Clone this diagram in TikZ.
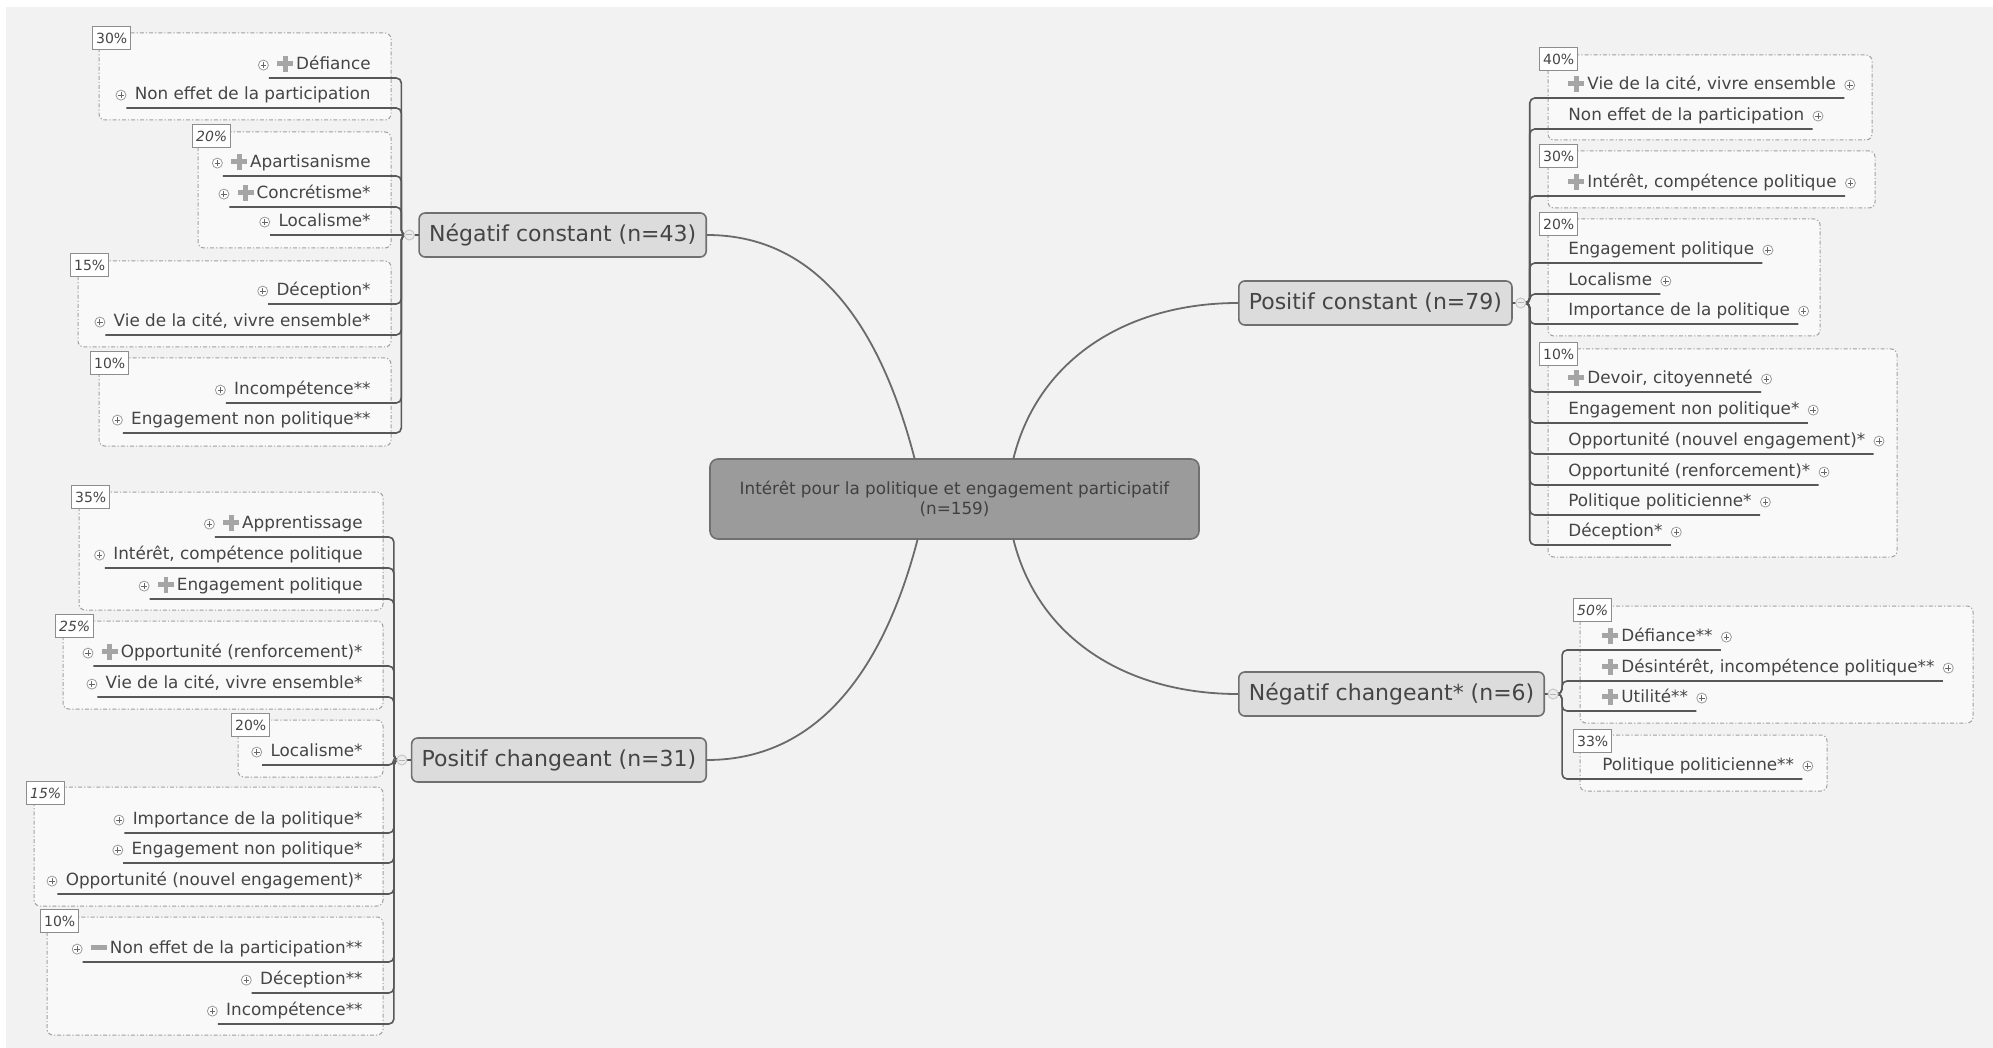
\documentclass[tikz,border=0pt]{standalone}
\usepackage{fontspec}
\setmainfont{DejaVu Sans}
\usepackage{xcolor}
\usepackage{tikz}

\definecolor{bggray}{HTML}{F2F2F2}
\definecolor{grpfill}{HTML}{F9F9F9}
\definecolor{grpline}{HTML}{A0A0A0}
\definecolor{txtgray}{HTML}{454545}
\definecolor{linkgray}{HTML}{585858}
\definecolor{trunkgray}{HTML}{6A6A6A}
\definecolor{topicfill}{HTML}{DCDCDC}
\definecolor{rootfill}{HTML}{9B9B9B}
\definecolor{edgegray}{HTML}{707070}
\definecolor{icongray}{HTML}{A5A5A5}
\definecolor{markgray}{HTML}{9A9A9A}

\newcommand{\itemfont}{\fontsize{8.4}{10}\selectfont}
\newcommand{\topicfont}{\fontsize{11}{13}\selectfont}
\newcommand{\pctfont}{\fontsize{7}{8}\selectfont}
\newcommand{\plusmark}{{\color{icongray}\rlap{\rule[1.8pt]{8pt}{2.4pt}}\hspace{2.8pt}\rule[-1pt]{2.4pt}{8pt}\hspace{2.8pt}}\hspace{1.5pt}}
\newcommand{\minusmark}{{\color{icongray}\rule[1.8pt]{8pt}{2.4pt}}\hspace{1.5pt}}

\tikzset{
  root/.style={draw=edgegray, fill=rootfill, line width=0.8pt, rounded corners=4pt,
               minimum width=244.5pt, minimum height=40pt, align=center,
               font=\itemfont, text=black!75},
  topic/.style={draw=edgegray, fill=topicfill, line width=0.8pt, rounded corners=3pt,
                minimum height=22pt, inner xsep=5pt, font=\topicfont, text=txtgray},
  grp/.style={draw=grpline, fill=grpfill, line width=0.5pt, rounded corners=3pt,
              dash pattern=on 2pt off 1pt on 0.6pt off 1pt},
  pct/.style={draw=edgegray!80, fill=white, line width=0.5pt, anchor=north west,
              inner xsep=1.8pt, inner ysep=0pt, minimum height=11.5pt,
              font=\pctfont, text=txtgray},
  expmark/.style={circle, draw=markgray, fill=white, line width=0.4pt,
                  inner sep=0pt, minimum size=5pt,
                  path picture={\draw[black!60, line width=0.45pt]
                    ([xshift=1.1pt]path picture bounding box.west) -- ([xshift=-1.1pt]path picture bounding box.east)
                    ([yshift=-1.1pt]path picture bounding box.north) -- ([yshift=1.1pt]path picture bounding box.south);}},
  colmark/.style={circle, draw=black!22, fill=black!7, line width=0.5pt,
                  inner sep=0pt, minimum size=5pt,
                  path picture={\draw[black!30, line width=0.5pt]
                    ([xshift=1pt]path picture bounding box.west) -- ([xshift=-1pt]path picture bounding box.east);}},
  item/.style={font=\itemfont, text=txtgray, inner xsep=4pt, inner ysep=2pt,
               text height=6.5pt, text depth=2pt},
  itemL/.style={item, anchor=south east, label distance=2pt, label={[expmark]west:}},
  itemR/.style={item, anchor=south west, label distance=2pt, label={[expmark]east:}},
  link/.style={draw=linkgray, line width=0.8pt, rounded corners=2.5pt},
  trunk/.style={draw=trunkgray, line width=0.9pt}
}

\begin{document}
\begin{tikzpicture}[x=0.5pt, y=-0.5pt]

    % Canvas
    \useasboundingbox (0,0) rectangle (1993,1048);
    \fill[white] (0,0) rectangle (1993,1048);
    \fill[bggray] (6,7) rectangle (1993,1048);

    % Central topic
    \node[root] (root) at (954.5,499)
        {Intérêt pour la politique et engagement participatif\\(n=159)};

    % Main topics
    \node[topic, anchor=east] (negc) at (707,235) {Négatif constant (n=43)};
    \node[topic, anchor=east] (posch) at (707,760) {Positif changeant (n=31)};
    \node[topic, anchor=west] (posc) at (1238,303) {Positif constant (n=79)};
    \node[topic, anchor=west] (negch) at (1238,694) {Négatif changeant* (n=6)};

    \coordinate (negcj) at ([xshift=-8.5pt]negc.west);
    \coordinate (poschj) at ([xshift=-8.5pt]posch.west);
    \coordinate (poscj) at ([xshift=8.5pt]posc.east);
    \coordinate (negchj) at ([xshift=8.5pt]negch.east);

    % --------------------
    % Négatif constant
    % --------------------
    \draw[grp] (99,33) rectangle (391,120);
    \draw[grp] (198,132) rectangle (391,248);
    \draw[grp] (78,261) rectangle (391,347);
    \draw[grp] (99,358) rectangle (391,446);
    \node[pct] (negcp1) at (92,26) {30\%};
    \node[pct] (negcp2) at (192,124) {\itshape 20\%};
    \node[pct] (negcp3) at (70,253) {15\%};
    \node[pct] (negcp4) at (90,351) {10\%};

    \node[itemL] (negc1) at (379,78) {\plusmark Défiance};
    \node[itemL] (negc2) at (379,108) {Non effet de la participation};
    \node[itemL] (negc3) at (379,176) {\plusmark Apartisanisme};
    \node[itemL] (negc4) at (379,207) {\plusmark Concrétisme*};
    \node[itemL] (negc5) at (379,235) {Localisme*};
    \node[itemL] (negc6) at (379,304) {Déception*};
    \node[itemL] (negc7) at (379,335) {Vie de la cité, vivre ensemble*};
    \node[itemL] (negc8) at (379,403) {Incompétence**};
    \node[itemL] (negc9) at (379,433) {Engagement non politique**};

    % --------------------
    % Positif changeant
    % --------------------
    \draw[grp] (79,492) rectangle (383,610);
    \draw[grp] (63,621) rectangle (383,709);
    \draw[grp] (238,720) rectangle (383,777);
    \draw[grp] (34,787) rectangle (383,906);
    \draw[grp] (47,917) rectangle (383,1035);
    \node[pct] (poschp1) at (71,485) {35\%};
    \node[pct] (poschp2) at (55,614) {\itshape 25\%};
    \node[pct] (poschp3) at (231,713) {20\%};
    \node[pct] (poschp4) at (26,781) {\itshape 15\%};
    \node[pct] (poschp5) at (40,909) {10\%};

    \node[itemL] (posch1) at (371,537) {\plusmark Apprentissage};
    \node[itemL] (posch2) at (371,568) {Intérêt, compétence politique};
    \node[itemL] (posch3) at (371,599) {\plusmark Engagement politique};
    \node[itemL] (posch4) at (371,666) {\plusmark Opportunité (renforcement)*};
    \node[itemL] (posch5) at (371,697) {Vie de la cité, vivre ensemble*};
    \node[itemL] (posch6) at (371,765) {Localisme*};
    \node[itemL] (posch7) at (371,833) {Importance de la politique*};
    \node[itemL] (posch8) at (371,863) {Engagement non politique*};
    \node[itemL] (posch9) at (371,894) {Opportunité (nouvel engagement)*};
    \node[itemL] (posch10) at (371,962) {\minusmark Non effet de la participation**};
    \node[itemL] (posch11) at (371,993) {Déception**};
    \node[itemL] (posch12) at (371,1024) {Incompétence**};

    % --------------------
    % Positif constant
    % --------------------
    \draw[grp] (1548,55) rectangle (1872,140);
    \draw[grp] (1548,151) rectangle (1875,208);
    \draw[grp] (1548,219) rectangle (1820,336);
    \draw[grp] (1548,349) rectangle (1897,557);
    \node[pct] (poscp1) at (1539,47) {40\%};
    \node[pct] (poscp2) at (1539,144) {30\%};
    \node[pct] (poscp3) at (1539,212) {20\%};
    \node[pct] (poscp4) at (1539,342) {10\%};

    \node[itemR] (posc1) at (1560,98) {\plusmark Vie de la cité, vivre ensemble};
    \node[itemR] (posc2) at (1560,129) {Non effet de la participation};
    \node[itemR] (posc3) at (1560,196) {\plusmark Intérêt, compétence politique};
    \node[itemR] (posc4) at (1560,263) {Engagement politique};
    \node[itemR] (posc5) at (1560,294) {Localisme};
    \node[itemR] (posc6) at (1560,324) {Importance de la politique};
    \node[itemR] (posc7) at (1560,392) {\plusmark Devoir, citoyenneté};
    \node[itemR] (posc8) at (1560,423) {Engagement non politique*};
    \node[itemR] (posc9) at (1560,454) {Opportunité (nouvel engagement)*};
    \node[itemR] (posc10) at (1560,485) {Opportunité (renforcement)*};
    \node[itemR] (posc11) at (1560,515) {Politique politicienne*};
    \node[itemR] (posc12) at (1560,545) {Déception*};

    % --------------------
    % Négatif changeant
    % --------------------
    \draw[grp] (1580,606) rectangle (1973,723);
    \draw[grp] (1580,735) rectangle (1827,791);
    \node[pct] (negchp1) at (1573,598) {\itshape 50\%};
    \node[pct] (negchp2) at (1573,729) {33\%};

    \node[itemR] (negch1) at (1594,650) {\plusmark Défiance**};
    \node[itemR] (negch2) at (1594,681) {\plusmark Désintérêt, incompétence politique**};
    \node[itemR] (negch3) at (1594,711) {\plusmark Utilité**};
    \node[itemR] (negch4) at (1594,779) {Politique politicienne**};

    % --------------------
    % Branches
    % --------------------
    \draw[trunk] ([xshift=-20pt]root.north) .. controls +(-30,-115) and +(120,0) .. (negc.east);
    \draw[trunk] ([xshift=-18.5pt]root.south) .. controls +(-30,115) and +(120,0) .. (posch.east);
    \draw[trunk] ([xshift=29.5pt]root.north) .. controls +(25,-100) and +(-110,0) .. (posc.west);
    \draw[trunk] ([xshift=29.5pt]root.south) .. controls +(25,100) and +(-110,0) .. (negch.west);

    \draw[link] (negc1.south west) -- (negc1.south east) -| (negcj) -- (negc.west);
    \draw[link] (negc2.south west) -- (negc2.south east) -| (negcj) -- (negc.west);
    \draw[link] (negc3.south west) -- (negc3.south east) -| (negcj) -- (negc.west);
    \draw[link] (negc4.south west) -- (negc4.south east) -| (negcj) -- (negc.west);
    \draw[link] (negc5.south west) -- (negc5.south east) -- (negc.west);
    \draw[link] (negc6.south west) -- (negc6.south east) -| (negcj) -- (negc.west);
    \draw[link] (negc7.south west) -- (negc7.south east) -| (negcj) -- (negc.west);
    \draw[link] (negc8.south west) -- (negc8.south east) -| (negcj) -- (negc.west);
    \draw[link] (negc9.south west) -- (negc9.south east) -| (negcj) -- (negc.west);

    \draw[link] (posch1.south west) -- (posch1.south east) -| (poschj) -- (posch.west);
    \draw[link] (posch2.south west) -- (posch2.south east) -| (poschj) -- (posch.west);
    \draw[link] (posch3.south west) -- (posch3.south east) -| (poschj) -- (posch.west);
    \draw[link] (posch4.south west) -- (posch4.south east) -| (poschj) -- (posch.west);
    \draw[link] (posch5.south west) -- (posch5.south east) -| (poschj) -- (posch.west);
    \draw[link] (posch6.south west) -- (posch6.south east) -| (poschj) -- (posch.west);
    \draw[link] (posch7.south west) -- (posch7.south east) -| (poschj) -- (posch.west);
    \draw[link] (posch8.south west) -- (posch8.south east) -| (poschj) -- (posch.west);
    \draw[link] (posch9.south west) -- (posch9.south east) -| (poschj) -- (posch.west);
    \draw[link] (posch10.south west) -- (posch10.south east) -| (poschj) -- (posch.west);
    \draw[link] (posch11.south west) -- (posch11.south east) -| (poschj) -- (posch.west);
    \draw[link] (posch12.south west) -- (posch12.south east) -| (poschj) -- (posch.west);

    \draw[link] (posc.east) -- (poscj) |- (posc1.south west) -- (posc1.south east);
    \draw[link] (posc.east) -- (poscj) |- (posc2.south west) -- (posc2.south east);
    \draw[link] (posc.east) -- (poscj) |- (posc3.south west) -- (posc3.south east);
    \draw[link] (posc.east) -- (poscj) |- (posc4.south west) -- (posc4.south east);
    \draw[link] (posc.east) -- (poscj) |- (posc5.south west) -- (posc5.south east);
    \draw[link] (posc.east) -- (poscj) |- (posc6.south west) -- (posc6.south east);
    \draw[link] (posc.east) -- (poscj) |- (posc7.south west) -- (posc7.south east);
    \draw[link] (posc.east) -- (poscj) |- (posc8.south west) -- (posc8.south east);
    \draw[link] (posc.east) -- (poscj) |- (posc9.south west) -- (posc9.south east);
    \draw[link] (posc.east) -- (poscj) |- (posc10.south west) -- (posc10.south east);
    \draw[link] (posc.east) -- (poscj) |- (posc11.south west) -- (posc11.south east);
    \draw[link] (posc.east) -- (poscj) |- (posc12.south west) -- (posc12.south east);

    \draw[link] (negch.east) -- (negchj) |- (negch1.south west) -- (negch1.south east);
    \draw[link] (negch.east) -- (negchj) |- (negch2.south west) -- (negch2.south east);
    \draw[link] (negch.east) -- (negchj) |- (negch3.south west) -- (negch3.south east);
    \draw[link] (negch.east) -- (negchj) |- (negch4.south west) -- (negch4.south east);

    % Collapse markers
    \node[colmark] (negcm) at ([xshift=-4.5pt]negc.west) {};
    \node[colmark] (poschm) at ([xshift=-4.5pt]posch.west) {};
    \node[colmark] (poscm) at ([xshift=4pt]posc.east) {};
    \node[colmark] (negchm) at ([xshift=4pt]negch.east) {};

\end{tikzpicture}
\end{document}
